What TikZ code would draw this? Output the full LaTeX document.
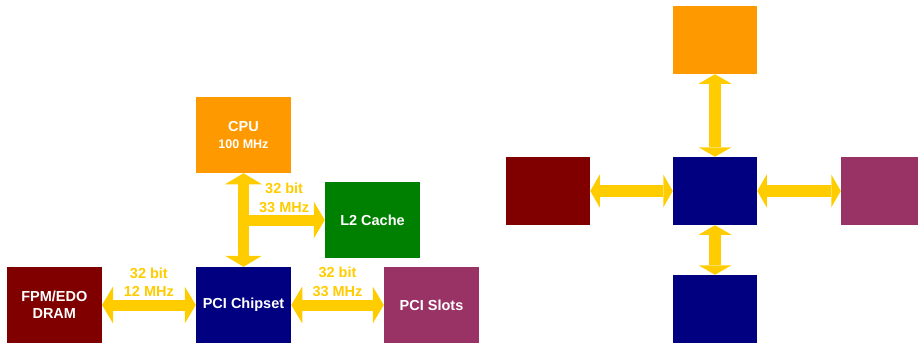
\documentclass[tikz,border=0pt]{standalone}
\usepackage{fontspec}
\setmainfont{Liberation Sans}
\usepackage{xcolor}
\usepackage{tikz}
\usetikzlibrary{arrows.meta,positioning}
\definecolor{pc@cpu}{RGB}{255,153,0}
\definecolor{pc@cache}{RGB}{0,128,0}
\definecolor{pc@dram}{RGB}{128,0,0}
\definecolor{pc@chip}{RGB}{0,0,128}
\definecolor{pc@slots}{RGB}{153,51,102}
\definecolor{pc@bus}{RGB}{255,204,0}
\tikzset{
  pcbus/.style={
    x=1pt, y=-1pt,
    line width=0.5pt,
    every node/.style={font=\bfseries}
  },
  unitbox/.style={                 % labelled component block
    draw=none,
    inner sep=2pt,
    text=white,
    align=center,
    font=\fontsize{14.5}{17}\selectfont\bfseries,
    minimum width=95pt,
    minimum height=76pt
  },
  plainbox/.style={                % unlabelled component block
    draw=none,
    minimum width=84pt,
    minimum height=68pt
  },
  bus/.style={
    draw=pc@bus, line width=11pt,
    >={Triangle[length=11pt,width=37pt,line width=0pt]}
  },
  thinbus/.style={
    draw=pc@bus, line width=12pt,
    >={Triangle[length=9.5pt,width=33pt,line width=0pt]}
  },
  buslabel/.style={
    text=pc@bus, inner sep=0pt,
    align=center,
    font=\fontsize{14.5}{18.5}\selectfont\bfseries
  }
}
\begin{document}
\begin{tikzpicture}[pcbus]
\useasboundingbox (0,0) rectangle (918,345);

% Left: labelled PCI system
\node[unitbox, fill=pc@cpu] (CPU) at (243.5,135)
  {CPU\\{\fontsize{12.5}{14}\selectfont 100 MHz}};
\node[unitbox, fill=pc@cache] (L2) at (372.5,220) {L2 Cache};
\node[unitbox, fill=pc@dram] (DRAM) at (54.3,305) {FPM/EDO\\DRAM};
\node[unitbox, fill=pc@chip] (Chip) at (243.5,305) {PCI Chipset};
\node[unitbox, fill=pc@slots] (Slots) at (431.5,305) {PCI Slots};

% Buses between the blocks
\draw[bus, <->] (CPU) -- (Chip);
\draw[bus, ->] (CPU.south |- L2.west) --
  node[buslabel, above=2pt] {32 bit\\33 MHz} (L2.west);
\draw[bus, <->] (DRAM) --
  node[buslabel, above=3pt] {32 bit\\12 MHz} (Chip);
\draw[bus, <->] (Chip) --
  node[buslabel, above=3pt] {32 bit\\33 MHz} (Slots);

% Right: the same layout without labels
\node[plainbox, fill=pc@cpu] (rTop) at (715,40) {};
\node[plainbox, fill=pc@chip] (rMid) at (715,191) {};
\node[plainbox, fill=pc@dram] (rLeft) at (548,191) {};
\node[plainbox, fill=pc@slots, minimum width=77pt] (rRight) at (879.5,191) {};
\node[plainbox, fill=pc@chip] (rBot) at (715,309) {};

\draw[thinbus, <->] (rTop) -- (rMid);
\draw[thinbus, <->] (rLeft) -- (rMid);
\draw[thinbus, <->] (rMid) -- (rRight);
\draw[thinbus, <->] (rMid) -- (rBot);

\end{tikzpicture}
\end{document}
